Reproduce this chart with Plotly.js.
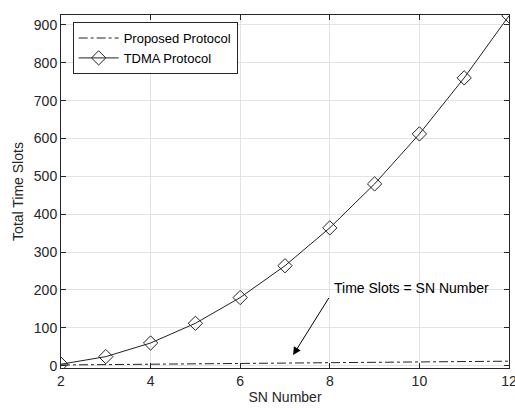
<!DOCTYPE html>
<html><head><meta charset="utf-8">
<script src="https://cdn.plot.ly/plotly-3.0.1.min.js"></script>
<style>html,body{margin:0;padding:0;background:#fff}#chart{width:515px;height:410px}</style>
</head><body><div id="chart"></div>
<script>
const snNumber = [2,3,4,5,6,7,8,9,10,11,12];
const proposedSlots = [2,3,4,5,6,7,8,9,10,11,12];
const tdmaSlots = [4,24,60,112,180,264,364,480,612,760,924];
const xTicks = [2,4,6,8,10,12];
const yTicks = [0,100,200,300,400,500,600,700,800,900];

const traces = [
  {x: snNumber, y: proposedSlots, name: 'Proposed Protocol', mode: 'lines',
   line: {color: '#222', width: 1, dash: 'dashdot'}},
  {x: snNumber, y: tdmaSlots, name: 'TDMA Protocol', mode: 'lines+markers',
   line: {color: '#222', width: 1},
   marker: {symbol: 'diamond-open', size: 11, color: '#222', line: {width: 1}}}
];
const axisCommon = {showline: true, mirror: 'ticks', linecolor: '#262626', linewidth: 1,
  ticks: 'inside', ticklen: 5, tickcolor: '#262626', showgrid: true, gridcolor: '#e3e3e3',
  zeroline: false, ticklabeloverflow: 'allow', tickfont: {size: 14, color: '#262626'}};
const layout = {
  width: 515, height: 410,
  margin: {l: 61, r: 6, t: 15, b: 42},
  paper_bgcolor: '#fff', plot_bgcolor: '#fff',
  font: {family: 'Liberation Sans, Arial, sans-serif', color: '#262626'},
  xaxis: Object.assign({}, axisCommon, {range: [2, 12], tickvals: xTicks,
    title: {text: 'SN Number', font: {size: 14}, standoff: 4}}),
  yaxis: Object.assign({}, axisCommon, {range: [-6, 926], tickvals: yTicks,
    title: {text: 'Total Time Slots', font: {size: 14}, standoff: 6}}),
  showlegend: true,
  legend: {x: 0.026, y: 0.98, xanchor: 'left', yanchor: 'top', bgcolor: '#fff',
    bordercolor: '#262626', borderwidth: 1, font: {size: 13, color: '#000'},
    tracegroupgap: 0, itemwidth: 40},
  annotations: [
    {x: 9.82, y: 205, text: 'Time Slots = SN Number', showarrow: false,
     font: {size: 14, color: '#000'}},
    {x: 7.18, y: 28, ax: 8.0, ay: 183, axref: 'x', ayref: 'y', xref: 'x', yref: 'y',
     text: '', showarrow: true, arrowhead: 2, arrowsize: 1.6, arrowwidth: 1, arrowcolor: '#000'}
  ]
};
Plotly.newPlot('chart', traces, layout, {displayModeBar: false, staticPlot: true});
</script></body></html>
